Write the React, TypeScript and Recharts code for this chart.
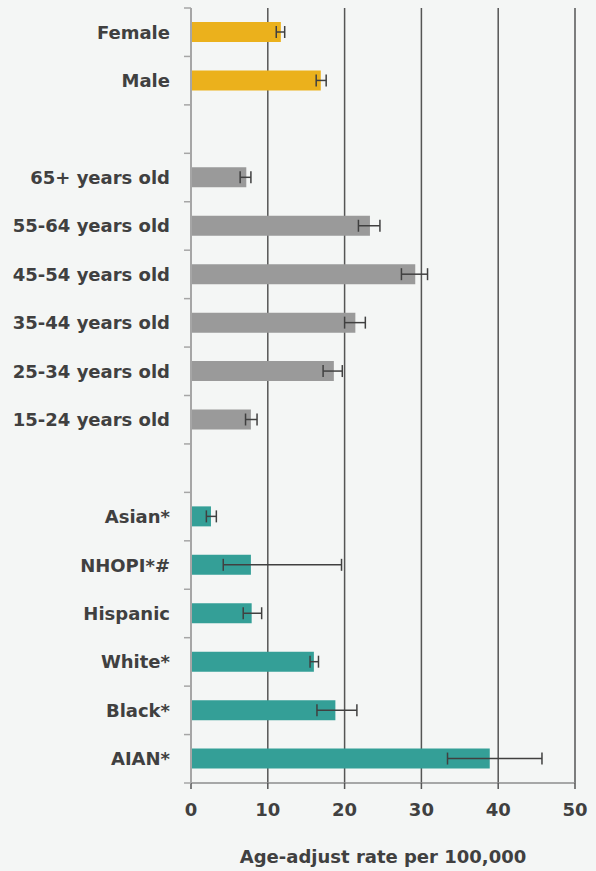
import { BarChart, Bar, XAxis, YAxis, CartesianGrid, ErrorBar, Cell } from "recharts";

const categories = [
  "Female", "Male", " ",
  "65+ years old", "55-64 years old", "45-54 years old", "35-44 years old", "25-34 years old", "15-24 years old", "  ",
  "Asian*", "NHOPI*#", "Hispanic", "White*", "Black*", "AIAN*",
];
const groups = [
  "sex", "sex", "gap",
  "age", "age", "age", "age", "age", "age", "gap",
  "race", "race", "race", "race", "race", "race",
];
const rates = [11.7, 16.9, null, 7.2, 23.3, 29.2, 21.4, 18.6, 7.8, null, 2.6, 7.8, 7.9, 16.0, 18.8, 38.9];
const lower = [11.1, 16.3, null, 6.4, 21.8, 27.4, 20.0, 17.2, 7.1, null, 2.0, 4.2, 6.8, 15.5, 16.4, 33.4];
const upper = [12.2, 17.6, null, 7.8, 24.6, 30.8, 22.7, 19.7, 8.6, null, 3.3, 19.6, 9.2, 16.6, 21.6, 45.7];
const xTicks = [0, 10, 20, 30, 40, 50];

const groupColors: Record<string, string> = { sex: "#EBB11C", age: "#9A9A9A", race: "#349F97", gap: "none" };

const W = 596;
const H = 871;
const M = { top: 8, right: 21, bottom: 0, left: 0 };
const Y_W = 191;
const X_H = 88;
const BAND = (H - M.top - X_H) / categories.length;
const TEXT = "#404040";

const data = categories.map((name, i) => ({
  name,
  group: groups[i],
  rate: rates[i],
  err: rates[i] == null ? undefined : [rates[i]! - lower[i]!, upper[i]! - rates[i]!],
}));

// label plus the small tick marks that sit between rows
function CategoryTick(props: any) {
  const { x, y, payload, index } = props;
  const lx1 = x + 14;
  const lx2 = x + 21;
  return (
    <g>
      <line x1={lx1} x2={lx2} y1={y - BAND / 2} y2={y - BAND / 2} stroke="#a6a6a6" strokeWidth={1.5} />
      {index === categories.length - 1 && (
        <line x1={lx1} x2={lx2} y1={y + BAND / 2} y2={y + BAND / 2} stroke="#a6a6a6" strokeWidth={1.5} />
      )}
      <text x={x} y={y} dy="0.36em" textAnchor="end" fill={TEXT} fontSize={18} fontWeight="bold" fontFamily="DejaVu Sans">
        {payload.value.trim()}
      </text>
    </g>
  );
}

export default function App() {
  return (
    <div style={{ position: "absolute", left: 0, top: 0, width: W, height: H, background: "#F4F6F5" }}>
      <BarChart width={W} height={H} data={data} layout="vertical" margin={M} barSize={20}>
        <CartesianGrid horizontal={false} stroke="#555" strokeWidth={1.5} />
        <XAxis
          type="number"
          domain={[0, 50]}
          ticks={xTicks}
          height={X_H}
          tickSize={6}
          tickMargin={14}
          axisLine={{ stroke: "#8c8c8c", strokeWidth: 1.5 }}
          tickLine={{ stroke: "#555", strokeWidth: 1.5 }}
          tick={{ fill: TEXT, fontSize: 18, fontWeight: "bold", fontFamily: "DejaVu Sans" }}
          label={{
            value: "Age-adjust rate per 100,000",
            position: "insideBottom",
            offset: 8,
            fill: TEXT,
            fontSize: 18,
            fontWeight: "bold",
            fontFamily: "DejaVu Sans",
          }}
        />
        <YAxis
          type="category"
          dataKey="name"
          width={Y_W}
          tickSize={7}
          tickMargin={14}
          tickLine={false}
          interval={0}
          axisLine={{ stroke: "#a6a6a6", strokeWidth: 2 }}
          tick={<CategoryTick />}
        />
        <Bar dataKey="rate" isAnimationActive={false}>
          {data.map((d, i) => (
            <Cell key={i} fill={groupColors[d.group]} />
          ))}
          <ErrorBar dataKey="err" direction="x" width={6} stroke="#404040" strokeWidth={1.5} />
        </Bar>
      </BarChart>
    </div>
  );
}
